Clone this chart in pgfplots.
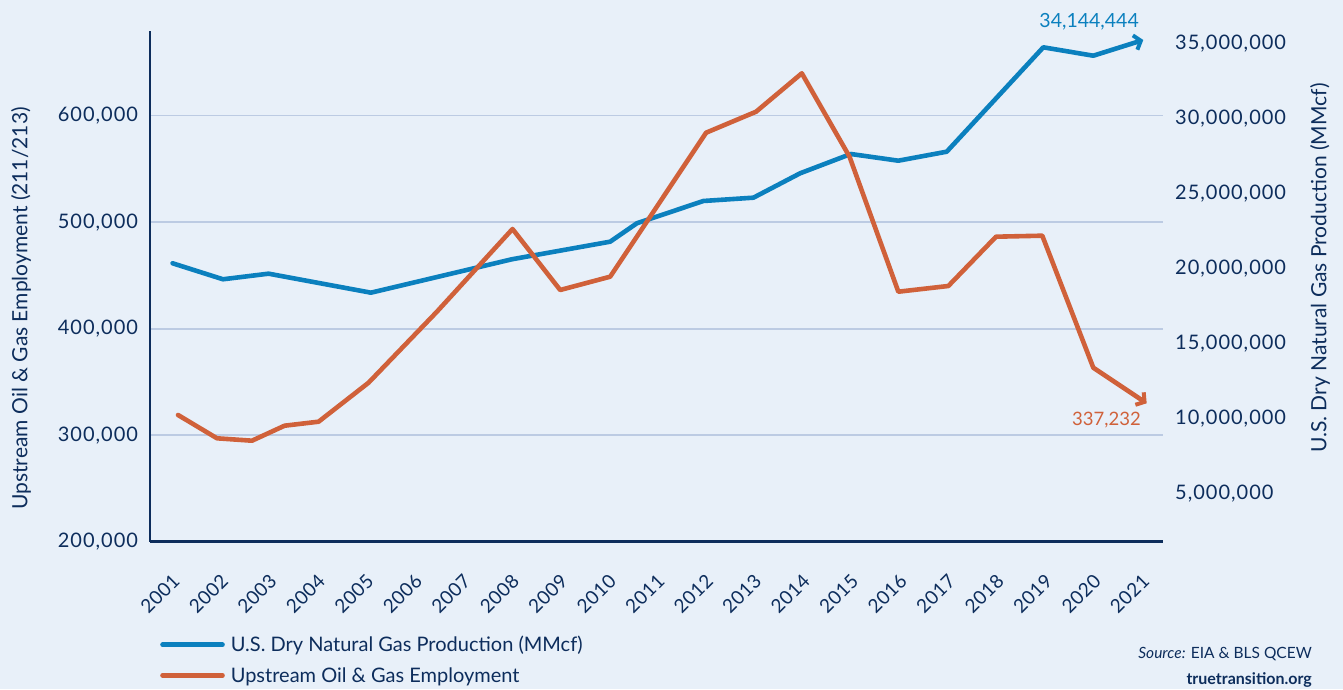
\documentclass[border=0pt]{standalone}
\usepackage{pgfplots}
\pgfplotsset{compat=1.18}
\usepackage{fontspec}
\setmainfont{Lato}
\usetikzlibrary{arrows.meta}
\definecolor{bg}{RGB}{232,240,249}
\definecolor{navy}{RGB}{13,45,92}
\definecolor{gblue}{RGB}{11,128,190}
\definecolor{gorange}{RGB}{208,97,58}
\definecolor{gridc}{RGB}{188,203,227}

\pgfplotstableread{
x y
2001.056 318967
2001.860 297089
2002.581 294836
2003.254 308920
2003.955 312676
2004.986 349296
2006.396 415962
2007.955 493615
2008.938 436338
2009.969 448826
2011.948 584038
2012.979 603756
2013.922 639800
2014.906 561502
2015.913 434742
2016.944 440094
2017.928 486385
2018.882 487324
2019.934 363380
2021.035 329953
}\employment

\pgfplotstableread{
x y
2000.944 20333000
2001.983 19267000
2002.924 19640000
2005.035 18373000
2007.942 20600000
2009.969 21773000
2010.520 23000000
2011.893 24487000
2012.924 24707000
2013.887 26333000
2014.932 27620000
2015.913 27173000
2016.911 27773000
2018.903 34733000
2019.934 34173000
2020.965 35220000
}\gas

\newcommand{\tickfont}{\fontsize{20}{24}\selectfont\addfontfeature{LetterSpace=5}}
\newcommand{\labfont}{\fontsize{21}{25}\selectfont}

\pgfplotsset{
  base/.style={scale only axis, width=1012.7pt, height=510.4pt,
    at={(150pt,147.3pt)}, anchor=south west,
    xmin=2000.478, xmax=2021.365,
    font=\fontsize{19}{23}\selectfont,
    major tick length=0pt,
    /pgf/number format/assume math mode=true,
    tick label style={text=navy},
    scaled y ticks=false},
  leftscale/.style={ymin=200000, ymax=679250},
  rightscale/.style={ymin=1770000, ymax=35800000},
  bluestyle/.style={gblue, line width=4.6pt, line join=round, line cap=round},
  orangestyle/.style={gorange, line width=4.6pt, line join=round, line cap=round},
}

\begin{document}
\begin{tikzpicture}
\fill[bg] (0,0) rectangle (1343pt,689pt);
\path[use as bounding box] (0,0) rectangle (1343pt,689pt);

% axis 1: left scale, grid, axis lines, ticks
\begin{axis}[base, leftscale,
  axis x line*=bottom, axis y line*=left,
  axis line style={navy, line width=2.6pt},
  xtick={2001,2002,...,2021},
  ytick={200000,300000,400000,500000,600000},
  ymajorgrids, grid style={gridc, line width=1.6pt},
  xticklabel style={/pgf/number format/1000 sep={}, font=\fontsize{19}{23}\selectfont\addfontfeature{LetterSpace=3}, xshift=-4pt, yshift=-26pt, rotate=45, anchor=north east},
  yticklabel style={/pgf/number format/fixed, /pgf/number format/1000 sep={,}, font=\tickfont, xshift=-8.5pt},
  ylabel={Upstream Oil \& Gas Employment (211/213)},
  every axis y label/.style={at={(rel axis cs:-0.1274,0.457)}, rotate=90, anchor=center, text=navy, font=\labfont},
]
\end{axis}

% axis 2: right scale, gas production
\begin{axis}[base, rightscale,
  hide x axis,
  axis y line*=right,
  y axis line style={draw=none},
  ytick={5000000,10000000,15000000,20000000,25000000,30000000,35000000},
  yticklabel style={/pgf/number format/fixed, /pgf/number format/1000 sep={,}, font=\tickfont, xshift=9pt, anchor=west},
  ylabel={U.S. Dry Natural Gas Production (MMcf)},
  every axis y label/.style={at={(rel axis cs:1.1553,0.536)}, rotate=90, anchor=center, text=navy, font=\labfont},
  legend style={draw=none, fill=none, at={(rel axis cs:0.0099,-0.181)}, anchor=north west,
    inner sep=0pt, row sep=10pt, text=navy, font=\fontsize{20}{24}\selectfont,
    /tikz/every odd column/.append style={column sep=4pt}},
  legend cell align=left,
  legend image code/.code={\draw[#1,-] (0pt,0pt) -- (60pt,0pt);},
]
\addplot[bluestyle, -{Straight Barb[length=6pt, width=15pt, line width=4pt]}] table[x=x, y=y] {\gas};
\addlegendentry{U.S. Dry Natural Gas Production (MMcf)}
\addlegendimage{orangestyle}
\addlegendentry{Upstream Oil \& Gas Employment}
\end{axis}

% axis 3: left scale, employment
\begin{axis}[base, leftscale, hide axis]
\addplot[orangestyle, -{Straight Barb[length=6pt, width=15pt, line width=4pt]}] table[x=x, y=y] {\employment};
\end{axis}

\node[anchor=base east, text=gblue, font=\fontsize{19.5}{23}\selectfont, inner sep=0pt] at (1139pt,661pt) {34,144,444};
\node[anchor=base east, text=gorange, font=\fontsize{18.5}{22}\selectfont, inner sep=0pt] at (1141pt,263.5pt) {337,232};
\node[anchor=base east, text=navy, font=\fontsize{15.5}{18}\selectfont, inner sep=0pt] at (1312pt,31pt) {\textit{Source:} EIA \& BLS QCEW};
\node[anchor=base east, text=navy, font=\fontsize{16}{19}\selectfont\bfseries, inner sep=0pt] at (1312pt,5pt) {truetransition.org};
\end{tikzpicture}
\end{document}
